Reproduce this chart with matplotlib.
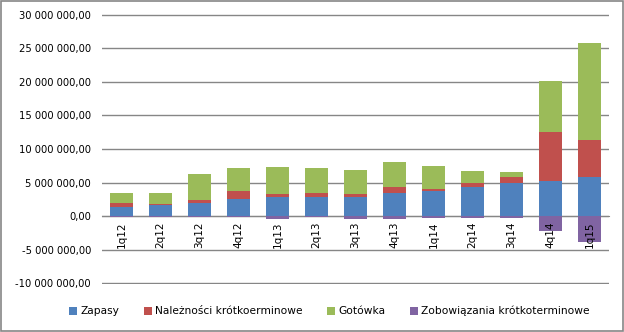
import matplotlib.pyplot as plt
import numpy as np
from matplotlib.patches import Rectangle
from matplotlib.ticker import FuncFormatter
from matplotlib.transforms import offset_copy

quarters = ["1q12", "2q12", "3q12", "4q12", "1q13", "2q13", "3q13",
            "4q13", "1q14", "2q14", "3q14", "4q14", "1q15"]
zapasy = [1.33, 1.63, 2.03, 2.51, 2.91, 2.81, 2.91, 3.40, 3.80, 4.29, 4.88, 5.28, 5.77]
naleznosci = [0.60, 0.15, 0.34, 1.29, 0.34, 0.59, 0.34, 0.99, 0.30, 0.59, 0.89, 7.25, 5.58]
gotowka = [1.48, 1.62, 3.95, 3.40, 4.10, 3.80, 3.65, 3.70, 3.40, 1.88, 0.84, 7.54, 14.35]
zobowiazania = [-0.12, -0.12, -0.12, -0.15, -0.40, -0.15, -0.35, -0.35, -0.30,
                -0.30, -0.30, -2.22, -3.85]

labels = ["Zapasy", "Należności krótkoerminowe", "Gotówka",
          "Zobowiązania krótkoterminowe"]
colors = ["#4F81BD", "#C0504D", "#9BBB59", "#8064A2"]

plt.rcParams["font.family"] = "DejaVu Sans"
plt.rcParams["font.size"] = 7

fig = plt.figure(figsize=(6.24, 3.32), dpi=100)
ax = fig.add_axes([0.1635, 0.1446, 0.8125, 0.8133])

x = np.arange(len(quarters))
mln = 1e6
z = np.array(zapasy) * mln
n = np.array(naleznosci) * mln
g = np.array(gotowka) * mln
zo = np.array(zobowiazania) * mln
w = 0.58
ax.bar(x, z, w, color=colors[0], zorder=2, label=labels[0])
ax.bar(x, n, w, bottom=z, color=colors[1], zorder=2, label=labels[1])
ax.bar(x, g, w, bottom=z + n, color=colors[2], zorder=2, label=labels[2])
ax.bar(x, zo, w, color=colors[3], zorder=2, label=labels[3])

ax.spines["bottom"].set_position(("data", 0))
ax.spines["bottom"].set_color("#868686")
ax.spines["bottom"].set_zorder(1)
for s in ["left", "right", "top"]:
    ax.spines[s].set_visible(False)

ax.set_xlim(-0.5, len(quarters) - 0.5)
ax.set_ylim(-10.08 * mln, 30.08 * mln)
ax.set_yticks(np.arange(-10, 31, 5) * mln)


def fmt(v, pos):
    s = f"{abs(v):,.2f}".replace(",", " ").replace(".", ",")
    return ("-" if v < 0 else "") + s


ax.yaxis.set_major_formatter(FuncFormatter(fmt))
ax.yaxis.grid(True, color="#868686", linewidth=1, zorder=0)
ax.tick_params(axis="y", length=0, pad=8, labelsize=7.2)

# etykiety kwartałów rysowane nad słupkami
ax.set_xticks(x)
ax.set_xticklabels([])
ax.tick_params(axis="x", length=0)
trans = offset_copy(ax.transData, fig=fig, y=-4, units="points")
for xi, q in zip(x, quarters):
    ax.text(xi, 0, q, transform=trans, rotation=90, ha="center", va="top",
            fontsize=7.5, zorder=5)

handles, lbls = ax.get_legend_handles_labels()
fig.legend(handles, lbls, loc="center", bbox_to_anchor=(0.528, 0.063), ncol=4,
           frameon=False, handlelength=0.75, handleheight=0.75,
           handletextpad=0.3, columnspacing=2.3, fontsize=7.7)

fig.patches.append(Rectangle((0.001, 0.002), 0.997, 0.995, transform=fig.transFigure,
                             fill=False, edgecolor="#868686", linewidth=1.2))

fig.savefig("out.png", dpi=100)
